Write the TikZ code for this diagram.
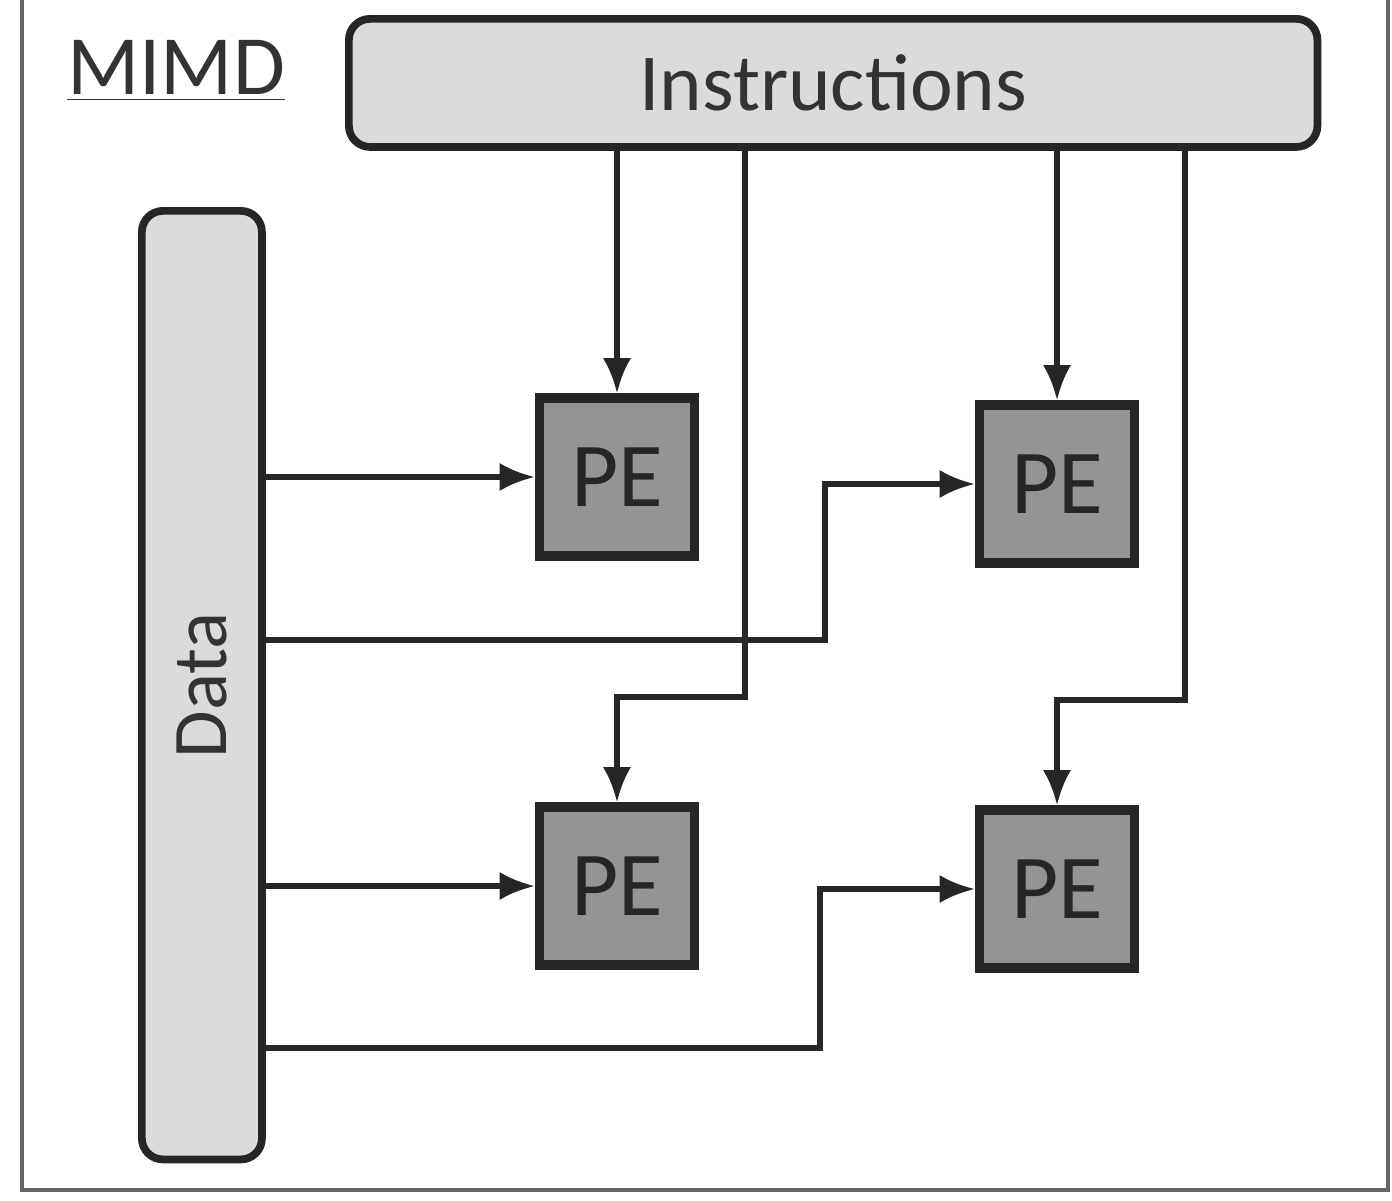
\documentclass[tikz,border=0pt]{standalone}
\usepackage{fontspec}
\setmainfont{Carlito}
\usetikzlibrary{arrows.meta}
\begin{document}
\begin{tikzpicture}[x=0.01cm,y=-0.01cm,
  bar/.style={draw=black!85,line width=2.2pt,rounded corners=6pt,fill=black!14},
  pe/.style={draw=black!85,line width=2.6pt,fill=black!42,minimum width=1.55cm,minimum height=1.58cm,font=\fontsize{26}{30}\selectfont,text=black!85},
  conn/.style={draw=black!85,line width=1.6pt},
  arr/.style={conn,-{Latex[length=10pt,width=8pt]}}]
\useasboundingbox (0,0) rectangle (1392,1200);
\draw[black!60,line width=1.2pt] (22,-5) -- (22,1190) -- (1388,1190) -- (1388,-5);
\node[bar,minimum width=9.68cm,minimum height=1.28cm,anchor=north west,font=\fontsize{23}{28}\selectfont,text=black!80] (instr) at (345,15) {Instructions};
\node[bar,minimum width=1.2cm,minimum height=9.48cm,anchor=north west] (data) at (138,207) {};
\node[rotate=90,font=\fontsize{22}{28}\selectfont,text=black!80] (dlabel) at (data.center) {Data};
\node[font=\fontsize{24}{30}\selectfont,text=black!80,anchor=north west] (mimd) at (55,28) {\underline{MIMD}};
\node[pe] (pe1) at (617,477) {PE};
\node[pe] (pe2) at (1057,484) {PE};
\node[pe] (pe3) at (617,886) {PE};
\node[pe] (pe4) at (1057,889) {PE};
% instructions
\draw[arr] (instr.south -| pe1.north) -- (pe1.north);
\draw[arr] (instr.south -| pe2.north) -- (pe2.north);
\coordinate (i3) at (745,143);
\coordinate (i4) at (1185,143);
\draw[arr] (i3) -- (745,697) -| (pe3.north);
\draw[arr] (i4) -- (1185,700) -| (pe4.north);
% data
\draw[arr] (data.east |- pe1.west) -- (pe1.west);
\draw[arr] (data.east |- pe3.west) -- (pe3.west);
\coordinate (d2) at (258,640);
\coordinate (d4) at (258,1048);
\draw[arr] (d2) -- (825,640) |- (pe2.west);
\draw[arr] (d4) -- (820,1048) |- (pe4.west);
\end{tikzpicture}
\end{document}
